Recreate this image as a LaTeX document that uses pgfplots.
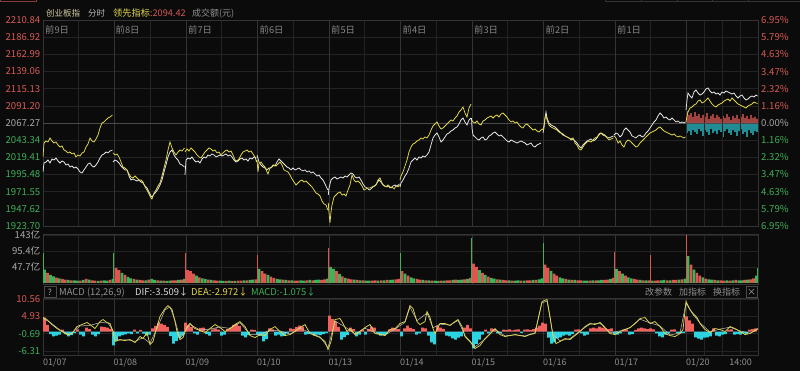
\documentclass[border=0pt]{standalone}
\usepackage{fontspec}
\setmainfont{Noto Sans CJK SC}
\usepackage{pgfplots}
\usepackage{pgfplotstable}
\pgfplotsset{compat=1.18}

\definecolor{bg}{HTML}{0B0B0B}
\definecolor{gridc}{HTML}{232323}
\definecolor{gridd}{HTML}{343434}
\definecolor{gridz}{HTML}{4A4A4A}
\definecolor{upred}{HTML}{D65A55}
\definecolor{dngreen}{HTML}{3FAE5A}
\definecolor{neutral}{HTML}{A8A8A8}
\definecolor{daytxt}{HTML}{858585}
\definecolor{hdr1}{HTML}{D4CEA2}
\definecolor{diftxt}{HTML}{DADADA}
\definecolor{wline}{HTML}{E8E8E8}
\definecolor{yline}{HTML}{E2D84E}
\definecolor{volred}{HTML}{E0554F}
\definecolor{volgreen}{HTML}{3DB35A}
\definecolor{mred}{HTML}{F0605C}
\definecolor{mcyan}{HTML}{2CD3E0}
\definecolor{uired}{HTML}{8A3A36}

\pgfplotstableread[row sep=\\]{
v c\\
40 0\\30 1\\24 0\\20 0\\16 1\\14 0\\12 1\\10 1\\9 0\\8 1\\8 0\\7 0\\7 1\\9 0\\12 1\\10 0\\8 1\\7 1\\6 0\\7 1\\8 0\\7 0\\9 1\\12 0\\
45 1\\38 1\\30 0\\24 1\\18 0\\14 0\\12 1\\10 0\\9 1\\8 1\\8 0\\10 1\\12 0\\9 0\\8 1\\7 0\\7 1\\6 0\\7 0\\8 1\\8 1\\9 0\\10 1\\12 0\\
38 1\\35 1\\28 1\\22 0\\17 1\\14 0\\12 0\\10 1\\9 0\\8 1\\7 1\\7 0\\6 0\\6 1\\7 0\\6 1\\6 0\\7 1\\7 1\\8 0\\8 1\\9 0\\10 0\\11 1\\
42 0\\35 1\\28 1\\24 0\\19 1\\15 1\\12 0\\11 0\\10 1\\9 0\\8 1\\8 0\\7 1\\7 1\\8 0\\7 0\\8 1\\9 0\\8 1\\9 0\\10 0\\9 1\\11 1\\13 0\\
48 0\\42 0\\35 1\\27 0\\20 1\\15 0\\13 1\\11 1\\10 0\\9 1\\8 0\\8 1\\7 0\\7 0\\7 1\\8 1\\7 0\\8 1\\8 0\\9 1\\9 0\\10 0\\11 1\\12 1\\
35 1\\28 0\\22 1\\17 0\\14 0\\12 1\\10 1\\9 0\\8 1\\8 0\\7 1\\7 0\\6 0\\7 1\\7 0\\8 1\\8 1\\9 0\\10 1\\9 0\\10 0\\11 1\\12 0\\15 1\\
58 1\\48 1\\38 0\\30 1\\24 0\\19 1\\15 0\\13 0\\11 1\\10 0\\9 1\\8 1\\8 0\\7 1\\7 0\\8 0\\7 1\\7 0\\8 1\\8 1\\9 0\\9 1\\11 0\\14 0\\
55 1\\45 1\\36 0\\28 1\\22 1\\17 0\\14 0\\12 1\\10 0\\9 1\\9 0\\8 1\\8 1\\7 0\\7 0\\7 1\\8 0\\8 1\\8 0\\9 0\\9 1\\10 1\\12 0\\15 1\\
42 0\\35 1\\28 0\\22 1\\17 0\\14 0\\12 1\\10 1\\9 0\\8 1\\8 0\\8 1\\7 0\\7 1\\8 1\\8 0\\9 0\\8 1\\8 0\\9 1\\9 1\\10 0\\11 1\\13 0\\
80 0\\55 1\\40 0\\30 1\\22 1\\17 0\\13 1\\11 0\\10 0\\9 1\\8 0\\8 1\\7 1\\8 0\\7 1\\8 0\\9 1\\8 0\\8 0\\9 1\\10 0\\11 1\\14 1\\22 0\\
}\voltab

\pgfplotstableread[row sep=\\]{
v z\\
4.5 0\\2.2 0\\-0.8 0\\-1.6 0\\-1.3 0\\-1.0 0\\0.6 0\\-0.8 0\\-1.6 0\\-1.2 0\\
-0.5 0\\0.7 0\\-1.0 0\\-1.6 0\\1.3 0\\0.8 0\\-1.0 0\\-1.6 0\\-0.8 0\\1.6 0\\
1.4 0\\1.3 0\\0.9 0\\-4.5 0\\-3.0 0\\-1.6 0\\-1.2 0\\-0.9 0\\-0.6 0\\-0.8 0\\
0.6 0\\-0.6 0\\0.5 0\\-0.7 0\\-1.3 0\\-1.0 0\\1.0 0\\1.8 0\\2.8 0\\2.6 0\\
2.2 0\\1.5 0\\-1.5 0\\-3.9 0\\-3.0 0\\-2.0 0\\-1.3 0\\2.9 0\\2.0 0\\1.5 0\\
-0.6 0\\-1.0 0\\1.2 0\\1.3 0\\-0.8 0\\-1.3 0\\0.7 0\\1.0 0\\0.6 0\\-1.3 0\\
-1.0 0\\0.8 0\\1.3 0\\2.2 0\\2.6 0\\1.8 0\\-1.3 0\\-1.9 0\\-1.2 0\\0.6 0\\
0.5 0\\-1.0 0\\-1.4 0\\-3.2 0\\-2.5 0\\1.0 0\\0.7 0\\-1.3 0\\-1.0 0\\-1.6 0\\
-1.4 0\\-0.6 0\\1.0 0\\0.8 0\\1.4 0\\1.9 0\\1.6 0\\-1.0 0\\-0.8 0\\-0.6 0\\
-1.3 0\\-1.0 0\\-1.2 0\\-0.8 0\\-0.5 0\\5.2 0\\4.0 0\\3.2 0\\1.5 0\\-2.6 0\\
-1.8 0\\-1.2 0\\1.3 0\\0.8 0\\-1.6 0\\-1.0 0\\0.6 0\\-1.0 0\\0.8 0\\1.6 0\\
1.3 0\\-0.7 0\\-1.3 0\\-1.2 0\\-0.8 0\\0.7 0\\1.3 0\\1.0 0\\0.8 0\\-1.6 0\\
1.0 0\\1.9 0\\1.2 0\\0.8 0\\-1.0 0\\-0.6 0\\1.3 0\\1.0 0\\-1.3 0\\-3.5 0\\
-4.2 0\\1.9 0\\1.3 0\\0.9 0\\-1.3 0\\-1.6 0\\-2.2 0\\-2.6 0\\-2.0 0\\-1.6 0\\
1.3 0\\2.2 0\\1.0 0\\-5.5 0\\-4.0 0\\-2.6 0\\-1.0 0\\0.6 0\\-0.6 0\\1.0 0\\
0.8 0\\-0.6 0\\-0.5 0\\0.6 0\\0.5 0\\0.7 0\\0.4 0\\0.6 0\\0.7 0\\-0.4 0\\
0.6 0\\0.7 0\\0.5 0\\0.8 0\\1.3 0\\1.9 0\\2.9 0\\2.6 0\\-2.0 0\\-3.9 0\\
-3.5 0\\-2.2 0\\-1.9 0\\-1.3 0\\-1.0 0\\-1.3 0\\-0.8 0\\0.6 0\\0.7 0\\-0.6 0\\
-1.3 0\\-1.0 0\\1.0 0\\1.3 0\\1.0 0\\1.6 0\\1.3 0\\1.0 0\\0.8 0\\1.0 0\\
-0.8 0\\-1.0 0\\-0.6 0\\0.6 0\\0.7 0\\-1.0 0\\-0.8 0\\0.5 0\\1.0 0\\1.3 0\\
1.0 0\\0.8 0\\1.0 0\\0.7 0\\-0.6 0\\-1.6 0\\-1.9 0\\-1.0 0\\-0.6 0\\0.6 0\\
0.7 0\\-0.4 0\\-0.6 0\\-0.5 0\\4.9 0\\3.6 0\\2.6 0\\-1.9 0\\-2.3 0\\-2.6 0\\
-2.0 0\\-1.9 0\\-1.6 0\\1.0 0\\-1.3 0\\-1.6 0\\-1.0 0\\-0.8 0\\0.6 0\\0.7 0\\
-1.0 0\\-0.8 0\\-1.0 0\\-0.6 0\\-0.8 0\\0.6 0\\0.8 0\\1.0 0\\
}\machist

\pgfplotsset{
  panel/.style={scale only axis, anchor=south west, width=715pt, xmin=43, xmax=758,
    axis line style={draw=gridd, line width=0.6pt},
    major tick length=0pt, minor tick length=0pt,
    xtick={78.75,150.25,221.75,293.25,364.75,436.25,507.75,579.25,650.75,704.4,722.25,740.1},
    xticklabels={\phantom{0}},
    extra x ticks={114.5,186,257.5,329,400.5,472,543.5,615,686.5},
    extra x tick labels={\phantom{0}},
    extra x tick style={grid=major, major grid style={draw=gridd, line width=0.7pt}},
    grid=major, major grid style={draw=gridc, line width=0.6pt},
    yticklabel style={font=\fontsize{9.6}{10}\selectfont, anchor=east, inner sep=0pt, xshift=-2.5pt},
    unbounded coords=jump,
  },
}

\begin{document}
\begin{tikzpicture}
\useasboundingbox (0pt,0pt) rectangle (800pt,371pt);
\fill[bg] (0pt,0pt) rectangle (800pt,371pt);
\draw[uired, line width=0.8pt] (0.4pt,371pt) -- (0.4pt,369.6pt) -- (36.5pt,369.6pt) -- (36.5pt,371pt);
\draw[gridd, line width=0.6pt] (605pt,370pt) -- (800pt,370pt);
\foreach \xx in {605,641,677,712,748} \draw[gridd, line width=0.6pt] (\xx pt,370pt) -- (\xx pt,371pt);

% today's strength bars (points relative to previous close 2067.27)
\begin{axis}[scale only axis, anchor=south west, at={(43pt,145pt)}, width=715pt, height=206pt,
  xmin=43, xmax=758, ymin=-143.6, ymax=143.6, hide axis]
\addplot[ybar, bar width=1.1pt, bar shift=0pt, fill=mred, draw=none] coordinates {
(687,16.7)(689,11.2)(691,13.9)(693,8.4)(695,15.3)(697,9.8)(699,12.5)(701,7.0)(703,11.2)(705,8.4)
(707,13.9)(709,5.6)(711,9.8)(713,12.5)(715,7.0)(717,11.2)(719,8.4)(721,5.6)(723,9.8)(725,7.0)
(727,12.5)(729,8.4)(731,4.2)(733,9.8)(735,7.0)(737,11.2)(739,5.6)(741,8.4)(743,12.5)(745,7.0)
(747,9.8)(749,5.6)(751,11.2)(753,7.0)(755,8.4)(757,5.6)};
\addplot[ybar, bar width=1.1pt, bar shift=0pt, fill=mcyan, draw=none] coordinates {
(687,-13.9)(689,-11.2)(691,-16.7)(693,-9.8)(695,-12.5)(697,-15.3)(699,-8.4)(701,-11.2)(703,-18.1)(705,-9.8)
(707,-12.5)(709,-16.7)(711,-8.4)(713,-13.9)(715,-11.2)(717,-15.3)(719,-9.8)(721,-12.5)(723,-19.5)(725,-11.2)
(727,-8.4)(729,-13.9)(731,-16.7)(733,-9.8)(735,-12.5)(737,-18.1)(739,-11.2)(741,-8.4)(743,-15.3)(745,-12.5)
(747,-19.5)(749,-9.8)(751,-13.9)(753,-16.7)(755,-11.2)(757,-12.5)};
\end{axis}

% main price panel
\begin{axis}[panel, at={(43pt,145pt)}, height=206pt, ymin=1923.65, ymax=2210.89,
  ytick={1923.70,1947.62,1971.55,1995.48,2019.41,2043.34,2091.20,2115.13,2139.06,2162.99,2186.92,2210.84},
  yticklabels={\textcolor{dngreen}{1923.70},\textcolor{dngreen}{1947.62},\textcolor{dngreen}{1971.55},\textcolor{dngreen}{1995.48},\textcolor{dngreen}{2019.41},\textcolor{dngreen}{2043.34},\textcolor{upred}{2091.20},\textcolor{upred}{2115.13},\textcolor{upred}{2139.06},\textcolor{upred}{2162.99},\textcolor{upred}{2186.92},\textcolor{upred}{2210.84}},
  extra y ticks={2067.27}, extra y tick labels={\textcolor{neutral}{2067.27}},
  extra y tick style={grid=major, major grid style={draw=gridz, line width=0.9pt}}]
% index (white)
\addplot[wline, line width=0.75pt, mark=none] coordinates {
(43,1999.0)(44,2011.5)(46,2012.9)(48,2015.7)(50,2011.5)(52,2017.1)(54,2015.7)(56,2018.5)(58,2014.3)(60,2011.5)
(62,2014.3)(64,2012.9)(66,2008.7)(68,2010.1)(70,2005.9)(72,2007.3)(74,2004.5)(76,2005.9)(78,2003.1)(80,1999.0)
(82,1997.6)(84,2001.8)(86,2005.9)(88,2010.1)(90,2011.5)(92,2007.3)(94,2005.9)(96,2008.7)(98,2012.9)(100,2018.5)
(102,2022.7)(104,2024.1)(106,2026.8)(108,2025.5)(110,2028.2)(112.5,2029.6)(112.8,nan)
(113,2012.9)(115,2015.7)(117,2014.3)(119,2011.5)(121,2007.3)(123,2004.5)(125,2001.8)(127,2001.8)(129,1993.4)(131,1987.8)
(133,1989.2)(135,1987.8)(137,1986.4)(139,1987.8)(141,1985.0)(143,1983.6)(145,1979.5)(147,1976.7)(149,1971.1)(151,1965.5)
(152,1964.1)(154,1968.3)(156,1971.1)(158,1975.3)(160,1980.8)(162,1987.8)(164,1999.0)(166,2008.7)(168,2019.9)(170,2026.8)
(172,2029.6)(174,2022.7)(176,2018.5)(178,2015.7)(180,2010.1)(182,2008.7)(184.5,2005.9)(184.8,nan)
(185,1994.8)(186,2015.7)(188,2018.5)(190,2017.1)(192,2019.9)(194,2015.7)(196,2012.9)(198,2014.3)(200,2011.5)(202,2017.1)
(204,2019.9)(206,2018.5)(208,2022.7)(210,2021.3)(212,2024.1)(214,2022.7)(216,2019.9)(218,2021.3)(220,2022.7)(222,2021.3)
(224,2022.7)(226,2024.1)(228,2021.3)(230,2022.7)(232,2019.9)(234,2015.7)(236,2012.9)(238,2014.3)(240,2017.1)(242,2018.5)
(244,2015.7)(246,2017.1)(248,2014.3)(250,2018.5)(252,2017.1)(254,2019.9)(256.5,2018.5)(256.8,nan)
(257,2022.7)(259,2012.9)(261,2008.7)(263,2005.9)(265,2004.5)(267,2001.8)(269,2004.5)(271,2004.5)(273,2008.7)(275,2007.3)
(277,2012.9)(279,2017.1)(281,2014.3)(283,2011.5)(285,2008.7)(287,2005.9)(289,2004.5)(291,2001.8)(293,2004.5)(295,2001.8)
(297,2003.1)(299,2004.5)(301,2001.8)(303,2000.4)(305,2001.8)(307,1999.0)(309,2000.4)(311,1997.6)(313,1999.0)(315,1996.2)
(317,1993.4)(319,1994.8)(321,1990.6)(323,1987.8)(325,1982.2)(327.8,1973.9)(328.1,nan)
(328.3,1966.9)(329,1976.7)(331,1987.8)(333,1990.6)(335,1992.0)(337,1989.2)(339,1990.6)(341,1992.0)(343,1990.6)(345,1993.4)
(347,1992.0)(349,1994.8)(351,1997.6)(353,1996.2)(355,1992.0)(357,1990.6)(359,1992.0)(361,1987.8)(363,1982.2)(365,1978.1)
(367,1976.7)(369,1973.9)(371,1975.3)(373,1978.1)(375,1979.5)(377,1983.6)(379,1987.8)(381,1985.0)(383,1980.8)(385,1979.5)
(387,1978.1)(389,1979.5)(391,1976.7)(393,1979.5)(395,1980.8)(397,1979.5)(399.5,1982.2)(399.8,nan)
(400,1978.1)(401,1983.6)(403,1987.8)(405,1993.4)(407,1997.6)(409,2004.5)(411,2012.9)(413,2015.7)(415,2018.5)(417,2015.7)
(419,2019.9)(421,2018.5)(423,2021.3)(425,2019.9)(427,2022.7)(429,2026.8)(431,2036.6)(433,2046.4)(435,2050.5)(437,2053.3)
(439,2047.8)(441,2040.8)(443,2043.6)(445,2047.8)(447,2051.9)(449,2053.3)(451,2056.1)(453,2057.5)(455,2060.3)(457,2061.7)
(459,2065.9)(461,2071.5)(463,2074.2)(465,2068.7)(467,2064.5)(469,2071.5)(471,2074.2)(471.3,nan)
(471.5,2074.2)(472,2060.3)(473,2050.5)(475,2047.8)(477,2045.0)(479,2043.6)(481,2046.4)(483,2047.8)(485,2043.6)(487,2045.0)
(489,2049.2)(491,2050.5)(493,2053.3)(495,2054.7)(497,2051.9)(499,2049.2)(501,2050.5)(503,2047.8)(505,2045.0)(507,2042.2)
(509,2040.8)(511,2043.6)(513,2042.2)(515,2040.8)(517,2039.4)(519,2040.8)(521,2042.2)(523,2040.8)(525,2039.4)(527,2036.6)
(529,2038.0)(531,2039.4)(533,2035.2)(535,2033.8)(537,2036.6)(539,2038.0)(541,2039.4)(542,nan)
(543,2053.3)(544,2060.3)(545,2074.2)(546,2082.6)(547,2074.2)(549,2067.3)(551,2064.5)(553,2063.1)(555,2061.7)(557,2058.9)
(559,2056.1)(561,2053.3)(563,2050.5)(565,2049.2)(567,2047.8)(569,2046.4)(571,2043.6)(573,2045.0)(575,2042.2)(577,2039.4)
(579,2035.2)(581,2032.4)(583,2036.6)(585,2039.4)(587,2042.2)(589,2043.6)(591,2045.0)(593,2042.2)(595,2043.6)(597,2046.4)
(599,2051.9)(601,2053.3)(603,2050.5)(605,2049.2)(607,2047.8)(609,2046.4)(611,2047.8)(613.5,2049.2)(613.8,nan)
(614,2050.5)(616,2053.3)(618,2051.9)(620,2047.8)(622,2050.5)(624,2057.5)(626,2060.3)(628,2057.5)(630,2054.7)(632,2049.2)
(634,2047.8)(636,2046.4)(638,2049.2)(640,2050.5)(642,2047.8)(644,2049.2)(646,2053.3)(648,2056.1)(650,2060.3)(652,2064.5)
(654,2068.7)(656,2071.5)(658,2077.0)(660,2081.2)(662,2078.4)(664,2074.2)(666,2075.6)(668,2072.8)(670,2071.5)(672,2074.2)
(674,2071.5)(676,2068.7)(678,2070.1)(680,2067.3)(682,2068.7)(684,2067.3)(685.5,2068.7)(685.8,nan)
(686,2085.4)(687,2099.3)(688,2109.1)(690,2104.9)(692,2102.1)(694,2110.5)(696,2113.3)(698,2109.1)(700,2106.3)(702,2107.7)
(704,2110.5)(706,2114.7)(708,2116.1)(710,2111.9)(712,2109.1)(714,2110.5)(716,2107.7)(718,2109.1)(720,2106.3)(722,2110.5)
(724,2109.1)(726,2111.9)(728,2110.5)(730,2109.1)(732,2107.7)(734,2109.1)(736,2104.9)(738,2102.1)(740,2104.9)(742,2106.3)
(744,2102.1)(746,2099.3)(748,2100.7)(750,2103.5)(752,2104.9)(754,2103.5)(756,2106.3)(757.5,2104.9)};
% leading indicator (yellow)
\addplot[yline, line width=0.75pt, mark=none] coordinates {
(43,2019.9)(44,2039.4)(46,2042.2)(48,2040.8)(50,2046.4)(52,2042.2)(54,2039.4)(56,2040.8)(58,2036.6)(60,2033.8)
(62,2035.2)(64,2029.6)(66,2028.2)(68,2025.5)(70,2026.8)(72,2024.1)(74,2025.5)(76,2019.9)(78,2022.7)(80,2021.3)
(82,2025.5)(84,2026.8)(86,2033.8)(88,2038.0)(90,2046.4)(92,2042.2)(94,2040.8)(96,2045.0)(98,2050.5)(100,2060.3)
(102,2067.3)(104,2068.7)(106,2071.5)(108,2074.2)(110,2075.6)(112.5,2078.4)(112.8,nan)
(113,2025.5)(115,2022.7)(117,2024.1)(119,2019.9)(121,2012.9)(123,2005.9)(125,2004.5)(127,2001.8)(129,1996.2)(131,1992.0)
(133,1990.6)(135,1993.4)(137,1990.6)(139,1987.8)(141,1987.8)(143,1985.0)(145,1978.1)(147,1973.9)(149,1968.3)(151,1962.7)
(152,1961.3)(154,1969.7)(156,1973.9)(158,1979.5)(160,1983.6)(162,1993.4)(164,2004.5)(166,2015.7)(168,2029.6)(170,2040.8)
(172,2032.4)(174,2026.8)(176,2022.7)(178,2026.8)(180,2029.6)(182,2028.2)(184.5,2032.4)(184.8,nan)
(185,2026.8)(187,2031.0)(189,2028.2)(191,2032.4)(193,2029.6)(195,2026.8)(197,2022.7)(199,2019.9)(201,2018.5)(203,2022.7)
(205,2026.8)(207,2029.6)(209,2032.4)(211,2031.0)(213,2028.2)(215,2029.6)(217,2025.5)(219,2026.8)(221,2022.7)(223,2025.5)
(225,2028.2)(227,2029.6)(229,2026.8)(231,2028.2)(233,2022.7)(235,2015.7)(237,2014.3)(239,2017.1)(241,2022.7)(243,2026.8)
(245,2028.2)(247,2029.6)(249,2026.8)(251,2028.2)(253,2024.1)(255,2019.9)(256.5,2012.9)(256.8,nan)
(257,2015.7)(258,1999.0)(259,2011.5)(261,2012.9)(263,2008.7)(265,2005.9)(267,1999.0)(268,1996.2)(270,2004.5)(272,2005.9)
(274,2008.7)(276,2007.3)(278,2010.1)(280,2012.9)(282,2008.7)(284,2001.8)(286,2000.4)(288,1999.0)(290,1994.8)(292,1989.2)
(294,1985.0)(296,1980.8)(298,1983.6)(300,1986.4)(302,1987.8)(304,1985.0)(306,1986.4)(308,1983.6)(310,1980.8)(312,1978.1)
(314,1973.9)(316,1969.7)(318,1968.3)(320,1965.5)(322,1958.5)(324,1954.4)(326,1953.0)(327.8,1946.0)(328.1,nan)
(328.3,1955.8)(329,1941.8)(330,1927.9)(331,1943.2)(332,1953.0)(334,1964.1)(336,1966.9)(338,1969.7)(340,1971.1)(342,1966.9)
(344,1968.3)(346,1965.5)(348,1973.9)(350,1980.8)(352,1994.8)(354,1987.8)(356,1985.0)(358,1986.4)(360,1983.6)(362,1979.5)
(364,1973.9)(366,1975.3)(368,1976.7)(370,1976.7)(372,1978.1)(374,1979.5)(376,1980.8)(378,1987.8)(380,1990.6)(382,1983.6)
(384,1979.5)(386,1978.1)(388,1980.8)(390,1976.7)(392,1978.1)(394,1975.3)(396,1979.5)(398,1978.1)(399.5,1980.8)(399.8,nan)
(400,1987.8)(401,1993.4)(403,1999.0)(405,2007.3)(407,2015.7)(409,2026.8)(411,2033.8)(413,2038.0)(415,2039.4)(417,2042.2)
(419,2043.6)(421,2046.4)(423,2045.0)(425,2047.8)(427,2046.4)(429,2050.5)(431,2057.5)(433,2063.1)(435,2065.9)(437,2068.7)
(439,2063.1)(441,2058.9)(443,2060.3)(445,2063.1)(447,2065.9)(449,2068.7)(451,2071.5)(453,2070.1)(455,2074.2)(457,2077.0)
(459,2082.6)(461,2085.4)(463,2089.6)(465,2081.2)(467,2075.6)(469,2088.2)(471,2093.8)(471.3,nan)
(471.5,2071.5)(473,2068.7)(475,2067.3)(477,2070.1)(479,2065.9)(481,2064.5)(483,2070.1)(485,2071.5)(487,2074.2)(489,2075.6)
(491,2077.0)(493,2074.2)(495,2077.0)(497,2078.4)(499,2075.6)(501,2079.8)(503,2081.2)(505,2078.4)(507,2075.6)(509,2071.5)
(511,2068.7)(513,2070.1)(515,2067.3)(517,2068.7)(519,2064.5)(521,2061.7)(523,2060.3)(525,2064.5)(527,2065.9)(529,2063.1)
(531,2060.3)(533,2057.5)(535,2058.9)(537,2056.1)(539,2054.7)(541,2057.5)(542.5,2058.9)(542.8,nan)
(543,2057.5)(544,2064.5)(545,2074.2)(546,2078.4)(547,2071.5)(549,2064.5)(551,2061.7)(553,2060.3)(555,2058.9)(557,2057.5)
(559,2054.7)(561,2053.3)(563,2051.9)(565,2049.2)(567,2047.8)(569,2046.4)(571,2045.0)(573,2046.4)(575,2039.4)(577,2036.6)
(579,2031.0)(581,2029.6)(583,2033.8)(585,2038.0)(587,2040.8)(589,2042.2)(591,2040.8)(593,2043.6)(595,2046.4)(597,2047.8)
(599,2050.5)(601,2053.3)(603,2051.9)(605,2050.5)(607,2046.4)(609,2043.6)(611,2045.0)(613.5,2046.4)(613.8,nan)
(614,2049.2)(616,2046.4)(618,2039.4)(620,2042.2)(622,2036.6)(624,2033.8)(626,2040.8)(628,2043.6)(630,2042.2)(632,2039.4)
(634,2036.6)(636,2033.8)(638,2035.2)(640,2039.4)(642,2042.2)(644,2045.0)(646,2047.8)(648,2050.5)(650,2053.3)(652,2054.7)
(654,2056.1)(656,2057.5)(658,2060.3)(660,2061.7)(662,2058.9)(664,2056.1)(666,2054.7)(668,2053.3)(670,2051.9)(672,2050.5)
(674,2051.9)(676,2049.2)(678,2047.8)(680,2049.2)(682,2047.8)(684,2046.4)(685.5,2047.8)(685.8,nan)
(686,2068.7)(687,2077.0)(688,2082.6)(690,2088.2)(692,2089.6)(694,2092.4)(696,2093.8)(698,2097.9)(700,2099.3)(702,2095.2)
(704,2096.5)(706,2099.3)(708,2102.1)(710,2097.9)(712,2093.8)(714,2091.0)(716,2089.6)(718,2092.4)(720,2093.8)(722,2095.2)
(724,2097.9)(726,2099.3)(728,2100.7)(730,2097.9)(732,2102.1)(734,2099.3)(736,2096.5)(738,2093.8)(740,2092.4)(742,2091.0)
(744,2089.6)(746,2088.2)(748,2091.0)(750,2092.4)(752,2093.8)(754,2096.5)(756,2095.2)(757.5,2094.4)};
\end{axis}

% right-hand percentage labels
\begin{axis}[scale only axis, anchor=south west, at={(43pt,145pt)}, width=715pt, height=206pt,
  xmin=43, xmax=758, ymin=1923.65, ymax=2210.89, axis y line*=right, axis x line=none,
  axis line style={draw=none}, major tick length=0pt,
  ytick={1923.70,1947.62,1971.55,1995.48,2019.41,2043.34,2067.27,2091.20,2115.13,2139.06,2162.99,2186.92,2210.84},
  yticklabels={\textcolor{dngreen}{6.95\%},\textcolor{dngreen}{5.79\%},\textcolor{dngreen}{4.63\%},\textcolor{dngreen}{3.47\%},\textcolor{dngreen}{2.32\%},\textcolor{dngreen}{1.16\%},\textcolor{neutral}{0.00\%},\textcolor{upred}{1.16\%},\textcolor{upred}{2.32\%},\textcolor{upred}{3.47\%},\textcolor{upred}{4.63\%},\textcolor{upred}{5.79\%},\textcolor{upred}{6.95\%}},
  yticklabel style={font=\fontsize{9.6}{10}\selectfont, anchor=west, inner sep=0pt, xshift=3pt}]
\addplot[draw=none, mark=none] coordinates {(43,2067.27)(758,2067.27)};
\end{axis}

% volume panel
\begin{axis}[panel, at={(43pt,87pt)}, height=50pt, ymin=-3, ymax=146,
  ytick={47.7,95.4,143},
  yticklabels={\textcolor{neutral}{47.7亿},\textcolor{neutral}{95.4亿},\textcolor{neutral}{143亿}}]
\addplot[ybar, bar width=2.7pt, bar shift=0pt, fill=volred, draw=none]
  table[x expr={43+2.979*(\coordindex+0.5)}, y expr={\thisrow{v}*\thisrow{c}}] {\voltab};
\addplot[ybar, bar width=2.7pt, bar shift=0pt, fill=volgreen, draw=none]
  table[x expr={43+2.979*(\coordindex+0.5)}, y expr={\thisrow{v}*(1-\thisrow{c})}] {\voltab};
\addplot[ycomb, mark=none, draw=volgreen, line width=1pt] coordinates {(43.6,89)(113.6,89)(400.6,89)(471.6,134)(543.6,119)(757.4,45)};
\addplot[ycomb, mark=none, draw=volred, line width=1pt] coordinates {(185.6,89)(257.6,83)(328.6,104)(614.6,92)(650,83)(686.6,143)};
\end{axis}

% MACD panel
\begin{axis}[panel, at={(43pt,16pt)}, height=57pt, ymin=-7.61, ymax=10.88,
  ytick={-6.31,-0.69,4.93,10.56},
  yticklabels={\textcolor{dngreen}{-6.31},\textcolor{dngreen}{-0.69},\textcolor{upred}{4.93},\textcolor{upred}{10.56}}]
\addplot[ybar, bar width=2.7pt, bar shift=0pt, fill=mred, draw=none]
  table[x expr={44.5+3*\coordindex}, y expr={max(\thisrow{v},0)}] {\machist};
\addplot[ybar, bar width=2.7pt, bar shift=0pt, fill=mcyan, draw=none]
  table[x expr={44.5+3*\coordindex}, y expr={min(\thisrow{v},0)}] {\machist};
\addplot[wline!85!black, line width=0.5pt, mark=none] coordinates {
(43,4.2)(50,3.0)(60,0.5)(70,-1.0)(80,1.8)(90,2.0)(100,2.9)(108,2.8)(113,0.3)(118,-2.8)(128,-2.7)(135,-3.2)(143,-2.0)(150,-3.8)
(157,1.0)(165,7.0)(170,8.0)(175,3.6)(180,-2.2)(190,2.3)(200,0.5)(210,0.8)(220,1.5)(230,1.0)(240,2.9)(250,-1.0)(260,-1.0)
(270,0.5)(280,0.2)(290,-0.8)(300,1.1)(310,-0.4)(320,-1.7)(328,-5.2)(335,3.4)(345,1.5)(355,-0.8)(365,1.1)(375,-0.4)(385,-1.1)
(395,0.8)(405,3.0)(410,7.9)(417,3.5)(427,6.0)(433,1.2)(440,2.4)(450,2.1)(458,3.6)(465,-1.3)(475,-5.0)(485,-2.5)(495,0.7)
(505,-1.4)(515,-1.1)(525,-1.4)(535,-0.4)(542,9.3)(547,9.9)(553,-1.0)(560,-3.0)(570,-2.3)(580,0.2)(590,2.4)(600,2.7)(610,-0.4)
(620,0.2)(630,1.2)(640,4.0)(650,2.8)(660,1.8)(670,-1.1)(680,-0.5)(686,9.2)(693,5.5)(700,2.8)(710,-0.1)(720,0.8)(730,1.4)
(740,0.2)(750,-0.5)(758,0.8)};
\addplot[yline, line width=0.75pt, mark=none] coordinates {
(43,4.54)(47,3.89)(52,2.27)(57,0.97)(62,0.00)(67,-0.97)(72,-0.65)(77,1.62)(82,2.27)(87,2.92)(90,2.27)(95,0.97)(100,3.24)
(103,3.89)(107,2.92)(110,2.60)(113,0.00)(115,-3.24)(120,-2.60)(125,-2.92)(130,-2.60)(135,-3.57)(140,-1.62)(143,-2.27)
(147,-0.32)(150,-4.22)(153,-3.24)(157,1.62)(160,4.87)(165,7.46)(168,8.43)(172,7.14)(175,3.24)(177,0.00)(180,-2.60)
(183,-1.95)(187,1.62)(190,2.60)(195,0.97)(200,0.32)(205,-0.32)(210,0.97)(215,2.27)(220,1.30)(225,0.00)(230,0.97)
(235,2.27)(240,3.24)(245,1.62)(250,-1.30)(255,-1.95)(260,-0.97)(265,-1.30)(270,0.65)(275,1.62)(280,0.00)(285,-1.30)
(290,-0.97)(295,0.00)(300,1.30)(305,2.27)(310,-0.65)(315,-1.30)(320,-1.95)(325,-3.24)(328,-5.84)(331,-3.24)(335,3.89)
(340,4.22)(343,2.60)(347,0.00)(350,0.97)(355,-0.97)(360,0.00)(365,1.30)(370,2.27)(375,-0.65)(380,-0.97)(385,-1.30)
(390,0.65)(395,0.97)(400,2.60)(405,3.24)(410,8.43)(413,7.46)(417,3.24)(420,2.27)(425,3.24)(427,6.49)(430,4.54)(433,0.97)
(435,-0.65)(440,2.60)(445,2.60)(450,1.95)(455,3.24)(458,3.89)(462,1.62)(465,-1.62)(470,-3.24)(475,-5.51)(480,-4.54)
(485,-2.27)(490,-0.65)(495,0.97)(500,-0.97)(505,-1.62)(510,-1.30)(515,-0.97)(520,-1.30)(525,-1.62)(530,-0.97)(535,-0.65)
(538,3.89)(542,9.73)(547,10.38)(550,4.87)(553,-1.62)(556,-3.89)(560,-3.24)(565,-2.27)(570,-2.60)(575,-1.30)(580,0.00)
(585,1.62)(590,2.60)(595,2.27)(600,2.92)(605,1.30)(610,-0.65)(615,-0.97)(620,0.00)(625,0.65)(630,1.30)(635,2.60)
(640,4.22)(645,4.54)(650,2.60)(655,3.24)(660,1.62)(665,-0.65)(670,-1.30)(675,-1.62)(680,-0.65)(683,0.65)(686,9.73)
(690,7.14)(693,5.84)(697,4.54)(700,2.60)(705,0.65)(710,-0.32)(715,0.97)(720,0.65)(725,0.00)(730,1.62)(735,0.97)
(740,0.00)(745,-0.97)(750,-0.65)(755,0.32)(758,0.97)};
\end{axis}

% header texts
\node[anchor=base west, inner sep=0pt, text=hdr1, font=\fontsize{8.5}{9}\selectfont] at (46pt,354.5pt) {创业板指};
\node[anchor=base west, inner sep=0pt, text=neutral!80!white, font=\fontsize{8.5}{9}\selectfont] at (88pt,354.5pt) {分时};
\node[anchor=base west, inner sep=0pt, font=\fontsize{9.2}{10}\selectfont] at (113pt,354.5pt) {\textcolor{yline}{领先指标}\textcolor{upred}{:2094.42}};
\node[anchor=base west, inner sep=0pt, text=neutral!85!black, font=\fontsize{9}{10}\selectfont] at (192pt,354.5pt) {成交额(元)};

% day labels
\foreach \xx/\dd in {45/9,115.5/8,188/7,259.5/6,331/5,402.5/4,474/3,545.5/2,617/1}
  \node[anchor=base west, inner sep=0pt, text=daytxt, font=\fontsize{9.3}{10}\selectfont] at (\xx pt,337.5pt) {前\dd 日};

% MACD header
\draw[gridz, line width=0.6pt] (44pt,73.5pt) rectangle (56pt,84.5pt);
\node[inner sep=0pt, text=neutral, font=\fontsize{8.5}{9}\selectfont] at (50pt,79pt) {?};
\node[anchor=base west, inner sep=0pt, font=\fontsize{9.4}{10}\selectfont] at (59pt,75.5pt) {\textcolor{neutral!85!black}{MACD (12,26,9)}};
\node[anchor=base west, inner sep=0pt, font=\fontsize{9.4}{10}\selectfont] at (135pt,75.5pt) {\textcolor{diftxt}{DIF:-3.509↓}};
\node[anchor=base west, inner sep=0pt, font=\fontsize{9.4}{10}\selectfont] at (191pt,75.5pt) {\textcolor{yline}{DEA:-2.972↓}};
\node[anchor=base west, inner sep=0pt, font=\fontsize{9.4}{10}\selectfont] at (251pt,75.5pt) {\textcolor{dngreen}{MACD:-1.075↓}};
\node[anchor=base west, inner sep=0pt, text=neutral!85!black, font=\fontsize{9}{10}\selectfont] at (645pt,75.5pt) {改参数};
\node[anchor=base west, inner sep=0pt, text=neutral!85!black, font=\fontsize{9}{10}\selectfont] at (679pt,75.5pt) {加指标};
\node[anchor=base west, inner sep=0pt, text=neutral!85!black, font=\fontsize{9}{10}\selectfont] at (713pt,75.5pt) {换指标};
\draw[gridz, line width=0.6pt] (746pt,73.5pt) rectangle (757pt,84.5pt);
\node[inner sep=0pt, text=neutral, font=\fontsize{9}{10}\selectfont] at (751.5pt,79pt) {×};

% date labels
\foreach \xx/\dd in {43/07,113.5/08,185.5/09,257/10,328.5/13,400/14,471.5/15,543/16,614.5/17,686/20}
  \node[anchor=base west, inner sep=0pt, text=neutral!85!black, font=\fontsize{9}{10}\selectfont] at (\xx pt,5.5pt) {01/\dd};
\node[anchor=base, inner sep=0pt, text=neutral!85!black, font=\fontsize{9}{10}\selectfont] at (740.5pt,5.5pt) {14:00};
\end{tikzpicture}
\end{document}
